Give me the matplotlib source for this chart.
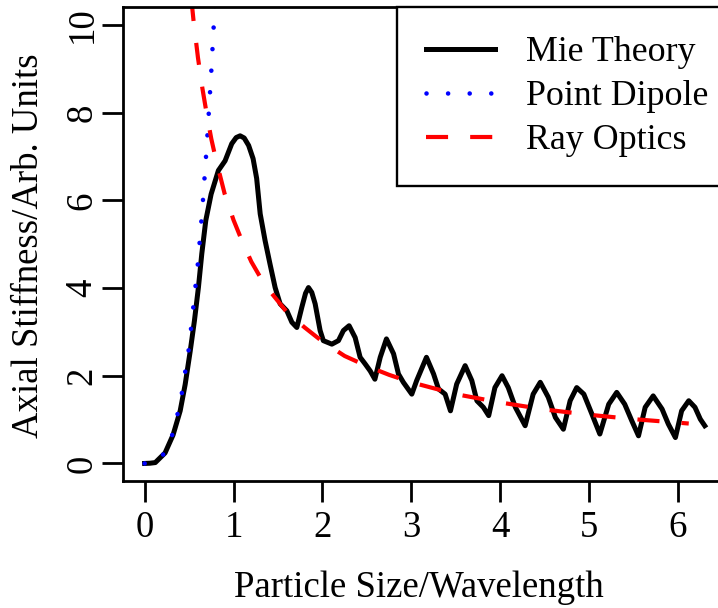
import matplotlib
matplotlib.use("Agg")
import matplotlib.pyplot as plt

plt.rcParams['font.family'] = ['Liberation Serif', 'DejaVu Serif']
plt.rcParams['font.size'] = 26.5

# Mie theory curve
mie_x = [0.00, 0.06, 0.12, 0.23, 0.32, 0.40, 0.456, 0.512, 0.56, 0.605,
         0.643, 0.688, 0.748, 0.83, 0.905, 0.98, 1.03, 1.074, 1.12, 1.17,
         1.22, 1.26, 1.30, 1.355, 1.41, 1.468, 1.524, 1.60, 1.656, 1.712,
         1.768, 1.81, 1.843, 1.88, 1.918, 1.974, 2.01, 2.106, 2.18, 2.236,
         2.30, 2.368, 2.424, 2.48, 2.537, 2.59, 2.65, 2.72, 2.80, 2.855,
         2.91, 3.005, 3.06, 3.17, 3.25, 3.305, 3.38, 3.44, 3.51, 3.605,
         3.68, 3.737, 3.81, 3.87, 3.94, 4.02, 4.09, 4.17, 4.28, 4.37,
         4.45, 4.54, 4.62, 4.71, 4.786, 4.86, 4.94, 5.03, 5.12, 5.22,
         5.31, 5.40, 5.48, 5.555, 5.63, 5.72, 5.82, 5.89, 5.97, 6.04,
         6.12, 6.19, 6.25, 6.30]
mie_y = [0.00, 0.005, 0.02, 0.24, 0.65, 1.20, 1.80, 2.55, 3.25, 4.01,
         4.78, 5.54, 6.14, 6.68, 6.90, 7.29, 7.43, 7.47, 7.42, 7.25,
         6.95, 6.50, 5.69, 5.08, 4.55, 4.01, 3.64, 3.48, 3.22, 3.10,
         3.56, 3.88, 4.01, 3.90, 3.64, 3.03, 2.80, 2.72, 2.80, 3.03,
         3.14, 2.87, 2.42, 2.27, 2.11, 1.92, 2.42, 2.84, 2.50, 2.04,
         1.85, 1.58, 1.89, 2.42, 2.04, 1.70, 1.58, 1.20, 1.81, 2.23,
         1.89, 1.43, 1.28, 1.09, 1.73, 2.00, 1.73, 1.28, 0.86, 1.58,
         1.85, 1.51, 1.05, 0.78, 1.43, 1.73, 1.58, 1.13, 0.67, 1.35,
         1.62, 1.35, 0.97, 0.63, 1.28, 1.54, 1.24, 0.90, 0.59, 1.20,
         1.43, 1.28, 1.01, 0.86]

# point dipole curve
dip_x = [0.0, 0.1, 0.2, 0.3, 0.4, 0.5, 0.6, 0.65, 0.7, 0.75, 0.8]
dip_y = [0.0, 0.02, 0.17, 0.57, 1.36, 2.65, 4.58, 5.82, 7.27, 8.94, 10.85]

# ray optics curve
ray_x = [0.50, 0.55, 0.60, 0.65, 0.70, 0.75, 0.80, 0.90, 1.0, 1.1, 1.2, 1.3,
         1.4, 1.5, 1.6, 1.8, 2.0, 2.25, 2.5, 2.75, 3.0, 3.5, 4.0, 4.5, 5.0,
         5.5, 6.0, 6.12]
ray_y = [11.1, 10.1, 9.25, 8.55, 7.95, 7.4, 6.95, 6.15, 5.55, 5.05, 4.6, 4.25,
         3.95, 3.7, 3.45, 3.1, 2.78, 2.45, 2.22, 2.02, 1.85, 1.58, 1.39, 1.23,
         1.11, 1.01, 0.93, 0.91]

xticks = [0, 1, 2, 3, 4, 5, 6]
yticks = [0, 2, 4, 6, 8, 10]

fig = plt.figure(figsize=(7.18, 6.08), dpi=100)
ax = fig.add_axes([0.1717, 0.2089, 0.8408, 0.7791])

ax.plot(mie_x, mie_y, color='black', lw=3.6, label='Mie Theory',
        solid_joinstyle='round')
ax.plot(dip_x, dip_y, color='blue', lw=3.3, dashes=(0.01, 4.7),
        dash_capstyle='round', label='Point Dipole')
ax.plot(ray_x, ray_y, color='red', lw=3.0, dashes=(5.3, 5.3),
        dash_capstyle='butt', label='Ray Optics')

ax.set_xlim(-0.24, 6.55)
ax.set_ylim(-0.4, 10.4)
ax.set_xticks(xticks)
ax.set_yticks(yticks)
ax.set_xticklabels([str(v) for v in xticks])
ax.set_yticklabels([str(v) for v in yticks], rotation=90, va='center')
ax.tick_params(length=15, width=2.0, pad=6)
ax.tick_params(axis='y', pad=2)
for s in ax.spines.values():
    s.set_linewidth(2.0)

# legend's right edge sits past the figure edge, as in the cropped original
leg = ax.legend(loc='upper right', bbox_to_anchor=(1.0166, 1.0),
                borderaxespad=0, fancybox=False,
                edgecolor='black', framealpha=1, handlelength=1.93,
                handletextpad=0.87, labelspacing=0.307, borderpad=0.8,
                fontsize=25.8)
leg.get_frame().set_linewidth(1.7)

fig.text(0.583, 0.018, 'Particle Size/Wavelength', ha='center', va='baseline')
fig.text(38 / 718, 1 - 246 / 608, 'Axial Stiffness/Arb. Units', rotation=90,
         rotation_mode='anchor', ha='center', va='baseline')

fig.savefig('out.png', dpi=100)
